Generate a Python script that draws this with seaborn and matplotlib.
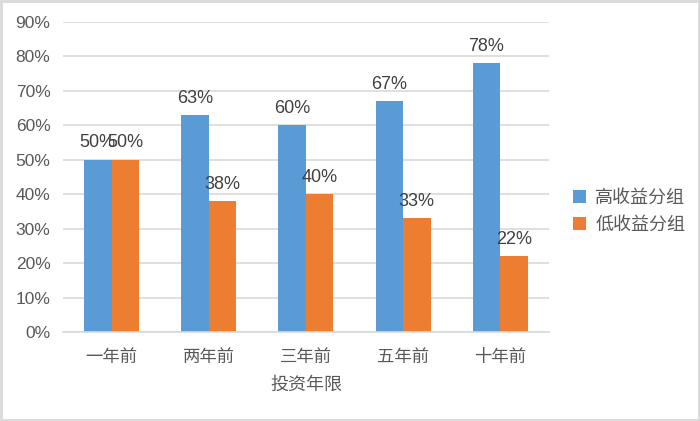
import pandas as pd
import seaborn as sns
import matplotlib.pyplot as plt
from matplotlib.patches import Rectangle
from matplotlib.ticker import PercentFormatter

# data
years = ['一年前', '两年前', '三年前', '五年前', '十年前']
high = [50, 63, 60, 67, 78]
low = [50, 38, 40, 33, 22]
groups = ['高收益分组', '低收益分组']

df = pd.DataFrame({'year': years * 2,
                   'value': high + low,
                   'group': [groups[0]] * 5 + [groups[1]] * 5})

sns.set_theme(style='white')
plt.rcParams['font.family'] = ['Liberation Sans', 'Noto Sans CJK SC', 'DejaVu Sans']
grey = '#595959'

fig = plt.figure(figsize=(7, 4.21), dpi=100)
ax = fig.add_axes([0.09, 0.2114, 0.694, 0.7363])
p = sns.barplot(data=df, x='year', y='value', hue='group',
                palette=['#5B9BD5', '#ED7D31'], width=0.566, gap=0,
                saturation=1, linewidth=0, ax=ax, legend=True)

for c in ax.containers:
    ax.bar_label(c, labels=[f'{v:.0f}%' for v in c.datavalues],
                 padding=6, fontsize=13, color='#404040')

ax.set_ylim(0, 90)
ax.set_yticks(range(0, 91, 10))
ax.yaxis.set_major_formatter(PercentFormatter(decimals=0))
ax.grid(axis='y', color='#d9d9d9', linewidth=1.2)
ax.set_axisbelow(True)
for s in ['top', 'right', 'left']:
    ax.spines[s].set_visible(False)
ax.spines['bottom'].set_color('#d9d9d9')
ax.spines['bottom'].set_linewidth(1.2)
ax.tick_params(axis='y', labelsize=12.5, labelcolor=grey, pad=9, length=0)
ax.tick_params(axis='x', labelsize=12.5, labelcolor=grey, pad=12, length=0)
ax.set_xlim(-0.5, 4.5)
ax.set_ylabel('')
p.set_xlabel('投资年限', fontsize=13, color=grey, labelpad=9)

leg = ax.legend(loc='center left', bbox_to_anchor=(1.016, 0.387), frameon=False,
                fontsize=13, handlelength=0.75, handleheight=0.75,
                handletextpad=0.5, labelspacing=0.55)
for t in leg.get_texts():
    t.set_color(grey)

fig.patches.append(Rectangle((0.002, 0.003), 0.996, 0.994, transform=fig.transFigure,
                             fill=False, edgecolor='#d9d9d9', linewidth=2))
fig.savefig('out.png', dpi=100)
